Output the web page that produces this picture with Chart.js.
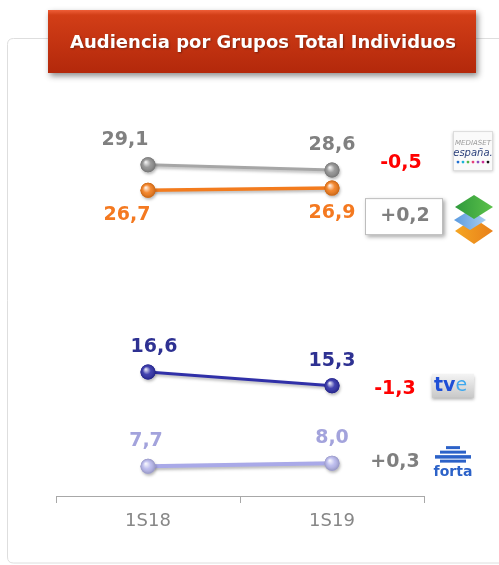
<!DOCTYPE html>
<html>
<head>
<meta charset="utf-8">
<script src="https://cdn.jsdelivr.net/npm/chart.js@4/dist/chart.umd.min.js"></script>
<style>
  html, body { margin: 0; padding: 0; background: #fff; }
  #wrap { width: 499px; height: 565px; }
</style>
</head>
<body>
<div id="wrap"><canvas id="myChart" width="499" height="565"></canvas></div>
<script>
// data
const categories = ["1S18", "1S19"]
const groupNames = ["Mediaset España", "Atresmedia", "TVE", "Forta"]
const mediaset = [29.1, 28.6]
const atresmedia = [26.7, 26.9]
const tve = [16.6, 15.3]
const forta = [7.7, 8.0]
const titleText = "Audiencia por Grupos Total Individuos"

// styling per group
const lineColors = ["#a6a6a6", "#f37b1d", "#3030a8", "#a9a9e8"]
const pointColors = ["#8e8e8e", "#f27a18", "#2c2ca6", "#b6b6ec"]
const textColors = ["#808080", "#f47920", "#2e3192", "#a3a3dc"]
const lineWidths = [3, 3.5, 3, 4]
const labelSide = ["above", "below", "above", "above"]
const firstLabelShift = [-23, -21, 6, -2]
const deltaOffsetX = [0, 4, -6, -6]
const deltaOffsetY = [-7, 28, 3, -1]
const logoOffsetY = [-19, 31, 0, 0]

const fmt = (v) => v.toFixed(1).replace(".", ",")
const fmtDelta = (d) => (d > 0 ? "+" : "") + fmt(d)

const ctx = document.getElementById("myChart").getContext("2d")

function roundRect(c, x, y, w, h, r) {
    c.beginPath()
    c.moveTo(x + r, y)
    c.lineTo(x + w - r, y)
    c.quadraticCurveTo(x + w, y, x + w, y + r)
    c.lineTo(x + w, y + h - r)
    c.quadraticCurveTo(x + w, y + h, x + w - r, y + h)
    c.lineTo(x + r, y + h)
    c.quadraticCurveTo(x, y + h, x, y + h - r)
    c.lineTo(x, y + r)
    c.quadraticCurveTo(x, y, x + r, y)
    c.closePath()
}

// logos, roughly
function drawMediaset(c, cx, cy) {
    c.save()
    c.shadowColor = "rgba(0,0,0,0.25)"
    c.shadowBlur = 3
    c.shadowOffsetY = 1
    c.fillStyle = "#fafafa"
    c.fillRect(cx - 20, cy - 20, 40, 40)
    c.restore()
    c.strokeStyle = "#dcdcdc"
    c.strokeRect(cx - 19.5, cy - 19.5, 39, 39)
    c.textAlign = "center"
    c.textBaseline = "middle"
    c.fillStyle = "#9a9a9a"
    c.font = "italic 7px 'DejaVu Sans'"
    c.fillText("MEDIASET", cx, cy - 8)
    c.fillStyle = "#2a3f7a"
    c.font = "italic 10px 'DejaVu Sans'"
    c.fillText("españa.", cx, cy + 2)
    const dots = ["#1f6fd1", "#19b5d8", "#55b848", "#e8407a", "#8a4fc0", "#d0309a", "#111"]
    dots.forEach((col, i) => {
        c.fillStyle = col
        c.beginPath()
        c.arc(cx - 15 + i * 5, cy + 11, 1.4, 0, Math.PI * 2)
        c.fill()
    })
}

function diamond(c, cx, cy, w, h, col1, col2) {
    const g = c.createLinearGradient(cx - w / 2, cy, cx + w / 2, cy)
    g.addColorStop(0, col1)
    g.addColorStop(1, col2)
    c.fillStyle = g
    c.beginPath()
    c.moveTo(cx, cy - h / 2)
    c.lineTo(cx + w / 2, cy)
    c.lineTo(cx, cy + h / 2)
    c.lineTo(cx - w / 2, cy)
    c.closePath()
    c.fill()
}

function drawAtres(c, cx, cy) {
    diamond(c, cx + 1, cy + 12, 38, 26, "#f5a623", "#e8801a")
    diamond(c, cx - 3, cy + 1, 32, 20, "#5b9be0", "#a8cdf2")
    diamond(c, cx + 1, cy - 12, 38, 24, "#2f9a3c", "#5cc14a")
}

function drawTve(c, cx, cy) {
    c.save()
    c.shadowColor = "rgba(0,0,0,0.3)"
    c.shadowBlur = 3
    c.shadowOffsetY = 2
    const g = c.createLinearGradient(0, cy - 12, 0, cy + 12)
    g.addColorStop(0, "#f4f4f4")
    g.addColorStop(1, "#c8c8c8")
    c.fillStyle = g
    c.fillRect(cx - 21, cy - 12, 42, 24)
    c.restore()
    c.textBaseline = "middle"
    c.textAlign = "left"
    c.font = "bold 19px 'DejaVu Sans'"
    c.fillStyle = "#1f4fd6"
    c.fillText("tv", cx - 19, cy)
    const w = c.measureText("tv").width
    c.font = "19px 'DejaVu Sans'"
    c.fillStyle = "#3fa8ee"
    c.fillText("e", cx - 19 + w, cy)
}

function drawForta(c, cx, cy) {
    c.fillStyle = "#2c62c8"
    const bars = [[-17, 14, 3], [-12.5, 26, 3], [-8, 36, 3.5], [-3.5, 26, 3]]
    bars.forEach(([dy, w, h]) => c.fillRect(cx - w / 2, cy + dy, w, h))
    c.font = "bold 14px 'DejaVu Sans'"
    c.textAlign = "center"
    c.textBaseline = "middle"
    c.fillText("forta", cx, cy + 9)
}
const logoDrawers = [drawMediaset, drawAtres, drawTve, drawForta]

const decorPlugin = {
    id: "decor",
    beforeDraw(chart) {
        const c = chart.ctx
        c.save()
        // frame of the panel
        c.strokeStyle = "#dedede"
        c.lineWidth = 1
        roundRect(c, 7.5, 38.5, 540, 524.5, 6)
        c.stroke()
        // title box
        c.shadowColor = "rgba(0,0,0,0.45)"
        c.shadowBlur = 6
        c.shadowOffsetX = 2
        c.shadowOffsetY = 3
        const g = c.createLinearGradient(0, 10, 0, 73)
        g.addColorStop(0, "#ee5e38")
        g.addColorStop(0.08, "#d23e17")
        g.addColorStop(1, "#b3280b")
        c.fillStyle = g
        c.fillRect(48, 10, 428, 63)
        c.shadowColor = "rgba(0,0,0,0.35)"
        c.shadowBlur = 2
        c.shadowOffsetX = 1
        c.shadowOffsetY = 1
        c.fillStyle = "#fff"
        c.font = "bold 18px 'DejaVu Sans'"
        c.textAlign = "center"
        c.textBaseline = "middle"
        c.fillText(titleText, 263, 43)
        c.restore()
    },
    beforeDatasetDraw(chart) {
        const c = chart.ctx
        c.shadowColor = "rgba(0,0,0,0.28)"
        c.shadowBlur = 3
        c.shadowOffsetX = 1
        c.shadowOffsetY = 2
    },
    afterDatasetDraw(chart, args) {
        const c = chart.ctx
        c.shadowColor = "rgba(0,0,0,0)"
        c.shadowBlur = 0
        c.shadowOffsetX = 0
        c.shadowOffsetY = 0
        // shiny spheres on top of each point
        const i = args.index
        args.meta.data.forEach((pt) => {
            const r = pt.options.radius
            const g = c.createRadialGradient(pt.x - r * 0.3, pt.y - r * 0.35, 0.5, pt.x, pt.y, r)
            g.addColorStop(0, "rgba(255,255,255,0.85)")
            g.addColorStop(0.5, "rgba(255,255,255,0.1)")
            g.addColorStop(1, "rgba(0,0,0,0.18)")
            c.save()
            c.beginPath()
            c.arc(pt.x, pt.y, r, 0, Math.PI * 2)
            c.fillStyle = pointColors[i]
            c.fill()
            c.fillStyle = g
            c.fill()
            c.restore()
        })
    },
    afterDatasetsDraw(chart) {
        const c = chart.ctx
        const area = chart.chartArea
        c.save()
        chart.data.datasets.forEach((ds, i) => {
            const pts = chart.getDatasetMeta(i).data
            c.font = "bold 19px 'DejaVu Sans'"
            c.textAlign = "center"
            c.textBaseline = "middle"
            c.fillStyle = textColors[i]
            pts.forEach((pt, j) => {
                const dy = labelSide[i] === "above" ? -25 : 25
                const dx = j === 0 ? firstLabelShift[i] : 0
                c.fillText(fmt(ds.data[j]), pt.x + dx, pt.y + dy)
            })
            // change between the two periods
            const last = pts[pts.length - 1]
            const d = ds.data[ds.data.length - 1] - ds.data[0]
            const dyc = last.y + deltaOffsetY[i]
            const dxc = area.right - 23 + deltaOffsetX[i]
            if (i === 1) {
                c.save()
                c.shadowColor = "rgba(0,0,0,0.35)"
                c.shadowBlur = 4
                c.shadowOffsetX = 2
                c.shadowOffsetY = 2
                c.fillStyle = "#fff"
                c.fillRect(dxc - 40, dyc - 18, 78, 37)
                c.restore()
                c.strokeStyle = "#bdbdbd"
                c.lineWidth = 1
                c.strokeRect(dxc - 39.5, dyc - 17.5, 77, 36)
            }
            c.font = "bold 19px 'DejaVu Sans'"
            c.fillStyle = d < 0 ? "#ff0000" : "#7f7f7f"
            c.fillText(fmtDelta(d), dxc, dyc)
            c.save()
            logoDrawers[i](c, 473 - (i >= 2 ? 20 : 0), last.y + logoOffsetY[i])
            c.restore()
        })
        c.restore()
    },
}

const series = [mediaset, atresmedia, tve, forta]

new Chart(ctx, {
    type: "line",
    data: {
        labels: categories,
        datasets: series.map((vals, i) => ({
            label: groupNames[i],
            data: vals,
            yAxisID: i < 2 ? "y" : "y2", // two hidden axes: the picture breaks its scale between the groups
            borderColor: lineColors[i],
            borderWidth: lineWidths[i],
            backgroundColor: pointColors[i],
            pointBackgroundColor: pointColors[i],
            pointBorderWidth: 0,
            pointRadius: 7.5,
            pointHoverRadius: 7.5,
            tension: 0,
            clip: false,
        })),
    },
    options: {
        responsive: false,
        animation: false,
        events: [],
        layout: {
            padding: { left: 56, right: 75, top: 100, bottom: 29 },
        },
        scales: {
            x: {
                type: "category",
                offset: true,
                afterFit: (scale) => {
                    scale.height = 40
                },
                grid: {
                    offset: true,
                    drawOnChartArea: false,
                    tickLength: 7,
                    color: "#a8a8a8",
                },
                border: { color: "#a8a8a8", width: 1 },
                ticks: {
                    color: "#878787",
                    padding: 8,
                    font: { family: "'DejaVu Sans'", size: 18 },
                },
            },
            y: { display: false, min: -2.1, max: 35.2 },
            y2: { display: false, min: 4.9, max: 42.25 },
        },
        plugins: {
            legend: { display: false },
            tooltip: { enabled: false },
        },
    },
    plugins: [decorPlugin],
})
</script>
</body>
</html>
